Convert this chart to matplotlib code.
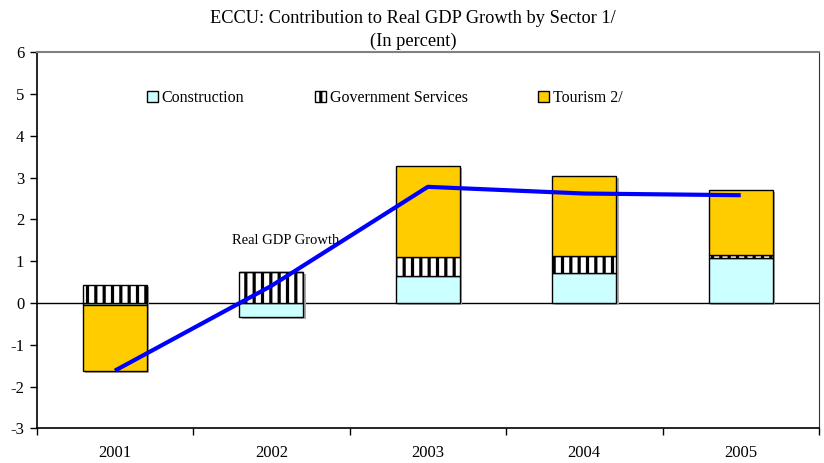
import numpy as np
import matplotlib
matplotlib.use("Agg")
import matplotlib.pyplot as plt
from matplotlib.patches import Patch
from matplotlib.transforms import offset_copy

# Contributions to real GDP growth, percentage points
years = ["2001", "2002", "2003", "2004", "2005"]
construction = [-0.05, -0.33, 0.64, 0.72, 1.08]
government = [0.42, 0.73, 0.46, 0.40, 0.07]
tourism = [-1.58, 0.0, 2.19, 1.91, 1.56]
gdp_growth = [-1.62, 0.41, 2.78, 2.62, 2.58]

plt.rcParams["font.family"] = ["Liberation Serif", "DejaVu Serif"]
plt.rcParams["axes.unicode_minus"] = False
plt.rcParams["hatch.linewidth"] = 2.3
plt.rcParams["hatch.color"] = "#111111"

fig = plt.figure(figsize=(8.24, 4.63), dpi=100)
ax = fig.add_axes([0.0445, 0.0749, 0.9494, 0.8121])

x = np.arange(len(years))
width = 0.41

# stack positives upward and negatives downward
pos_base = np.zeros(len(years))
neg_base = np.zeros(len(years))
series = [
    (construction, dict(facecolor="#CCFFFF")),
    (government, dict(facecolor="white", hatch="||")),
    (tourism, dict(facecolor="#FFCC00")),
]
for vals, style in series:
    vals = np.array(vals)
    bottom = np.where(vals >= 0, pos_base, neg_base)
    ax.bar(x, vals, width, bottom=bottom, edgecolor="black", linewidth=1, zorder=3, **style)
    pos_base += np.where(vals >= 0, vals, 0)
    neg_base += np.where(vals < 0, vals, 0)

# soft drop shadow behind each full stack
shadow_tf = offset_copy(ax.transData, fig=fig, x=2.5, y=-2, units="dots")
ax.bar(x, pos_base - neg_base, width, bottom=neg_base, color="#AAAAAA", linewidth=0,
       zorder=2.5, transform=shadow_tf)

ax.plot(x, gdp_growth, color="#0000FF", linewidth=3, zorder=5, solid_capstyle="butt")
ax.text(1.09, 1.5, "Real GDP Growth", ha="center", va="center", fontsize=10.5, zorder=6)

ax.axhline(0, color="black", linewidth=1, zorder=2)

ax.set_xlim(-0.5, len(years) - 0.5)
ax.set_ylim(-3, 6)
ax.set_yticks(range(-3, 7))
ax.set_xticks(x)
ax.set_xticklabels(years)
ax.set_xticks(np.arange(-0.5, len(years)), minor=True)
ax.tick_params(axis="x", which="major", length=0, pad=12, labelsize=12)
ax.tick_params(axis="x", which="minor", length=5, width=1, direction="out")
ax.tick_params(axis="y", length=5, width=1, direction="out", labelsize=12, pad=4)

ax.spines["top"].set_color("#808080")
ax.spines["top"].set_linewidth(1.5)
ax.spines["right"].set_color("#333333")
for s in ["left", "bottom"]:
    ax.spines[s].set_linewidth(1.2)

handles = [
    Patch(facecolor="#CCFFFF", edgecolor="black", label="Construction"),
    Patch(facecolor="white", edgecolor="black", hatch="||", label="Government Services"),
    Patch(facecolor="#FFCC00", edgecolor="black", label="Tourism 2/"),
]
ax.legend(handles=handles, loc="center", bbox_to_anchor=(0.445, 0.878), ncol=3,
          frameon=False, fontsize=11.5, handlelength=0.7, handleheight=0.7,
          handletextpad=0.25, columnspacing=4.4)

fig.text(0.501, 0.961, "ECCU: Contribution to Real GDP Growth by Sector 1/", ha="center", va="center", fontsize=13.2)
fig.text(0.501, 0.911, "(In percent)", ha="center", va="center", fontsize=13.2)

fig.savefig("out.png", dpi=100)
